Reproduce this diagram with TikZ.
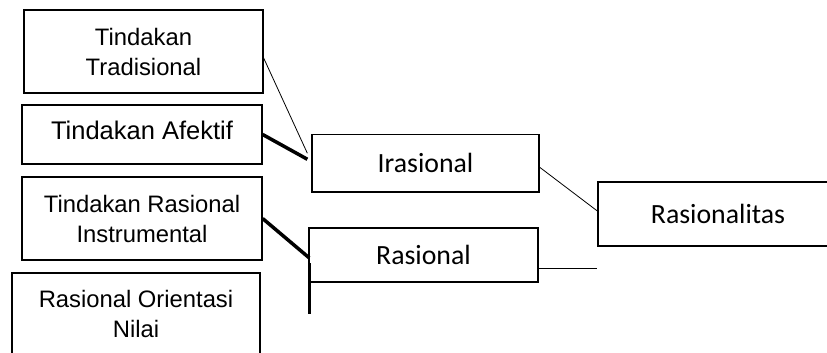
\documentclass[tikz,border=0pt]{standalone}
\usepackage{fontspec}
\newfontfamily\arialf{Liberation Sans}
\newfontfamily\calf{Carlito}
\begin{document}
\begin{tikzpicture}[x=1pt,y=-1pt,
  box/.style={draw=black, line width=1.3pt, inner sep=0pt, align=center},
  leftbox/.style={box, font=\arialf\fontsize{23.8}{30}\selectfont},
  rightbox/.style={box, font=\calf\fontsize{27.8}{32}\selectfont},
  thinline/.style={line width=0.8pt},
  thickline/.style={line width=3.5pt}]
\clip (0,0) rectangle (827,353);
\fill[white] (0,0) rectangle (827,353);
\node[leftbox, minimum width=239pt, minimum height=83pt] (trad) at (143.5,51.5) {Tindakan\\Tradisional};
\node[box, font=\arialf\fontsize{25.5}{30}\selectfont, minimum width=240pt, minimum height=59pt] (afek) at (142,134.5) {\raisebox{8pt}{Tindakan Afektif}};
\node[leftbox, minimum width=240pt, minimum height=83pt] (instr) at (142,218.5) {Tindakan Rasional\\Instrumental};
\node[leftbox, minimum width=248pt, minimum height=82pt] (nilai) at (136,314) {Rasional Orientasi\\Nilai};
\node[rightbox, minimum width=227pt, minimum height=57.5pt] (iras) at (425.5,163.25) {Irasional};
\node[rightbox, minimum width=229pt, minimum height=54pt] (rasi) at (423.5,255) {Rasional};
\node[rightbox, minimum width=240pt, minimum height=64pt] (ratas) at (718,214) {Rasionalitas};
\coordinate (vtop) at ([xshift=1pt,yshift=-8pt]rasi.west);
\coordinate (vbot) at ([xshift=1pt,yshift=-59pt]rasi.west);
\coordinate (rstart) at ([yshift=-13pt]rasi.east);
\coordinate (rend) at (ratas.west |- rstart);
\draw[thinline] ([yshift=-6.5pt]trad.east) -- ([xshift=-4pt,yshift=10pt]iras.west);
\draw[thickline] (afek.east) -- ([xshift=-4pt,yshift=4pt]iras.west);
\draw[thickline] (instr.east) -- ([xshift=1pt,yshift=-3pt]rasi.west);
\draw[thickline] (vtop) -- (vbot);
\draw[thinline] ([yshift=-4pt]iras.east) -- ([yshift=3pt]ratas.west);
\draw[thinline] (rstart) -- (rend);
\end{tikzpicture}
\end{document}
